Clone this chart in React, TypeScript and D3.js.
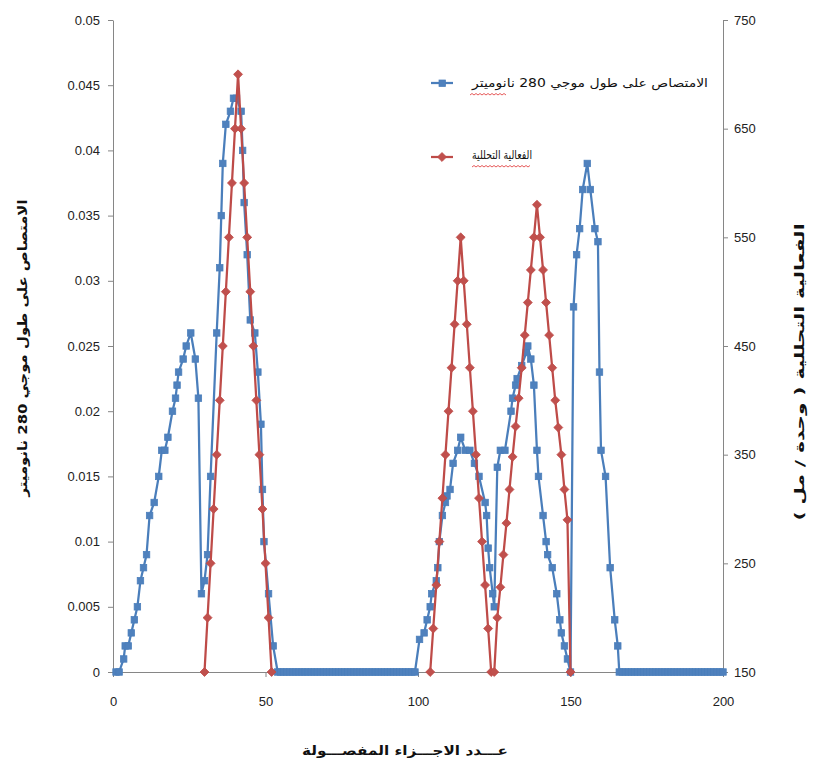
import * as d3 from 'd3';
import { useEffect, useRef } from 'react';

// axis ticks
const fractionTicks = [0, 50, 100, 150, 200];
const absorbanceTicks = [0, 0.005, 0.01, 0.015, 0.02, 0.025, 0.03, 0.035, 0.04, 0.045, 0.05];
const absorbanceLabels = ['0', '0.005', '0.01', '0.015', '0.02', '0.025', '0.03', '0.035', '0.04', '0.045', '0.05'];
const activityTicks = [150, 250, 350, 450, 550, 650, 750];

// absorbance at 280 nm, [fraction, value]
const absorbanceFirst: [number, number][] = [
  [1, 0], [2, 0], [3.5, 0.001], [4, 0.002], [5, 0.002], [6, 0.003], [7, 0.004], [8, 0.005], [9, 0.007],
  [10, 0.008], [11, 0.009], [12, 0.012], [13.5, 0.013], [15, 0.015], [16, 0.017], [17, 0.017], [18, 0.018],
  [19.5, 0.02], [20.5, 0.021], [21, 0.022], [21.5, 0.023], [23, 0.024], [24, 0.025], [25.5, 0.026],
  [27, 0.024], [28, 0.021], [29, 0.006], [30, 0.007], [31, 0.009], [32, 0.015], [34, 0.026], [35, 0.031],
  [35.5, 0.035], [36, 0.039], [37, 0.042], [38.5, 0.043], [39.5, 0.044], [40.5, 0.044], [42, 0.043],
  [42.5, 0.04], [43, 0.036], [44, 0.032], [45, 0.027], [46.5, 0.026], [47.5, 0.023], [48.5, 0.019],
  [49, 0.014], [49.5, 0.01], [51, 0.006], [52.5, 0.002], [54, 0],
];
const baselineRunA = [55, 56, 57, 58, 59, 60, 61, 62, 63, 64, 65, 66, 67, 68, 69, 70, 71, 72, 73, 74, 75, 76,
  77, 78, 79, 80, 81, 82, 83, 84, 85, 86, 87, 88, 89, 90, 91, 92, 93, 94, 95, 96, 97, 98];
const absorbanceSecond: [number, number][] = [
  [99, 0], [100.5, 0.0025], [102, 0.003], [103, 0.004], [104, 0.005], [104.5, 0.006], [106, 0.007],
  [106.5, 0.008], [107, 0.01], [108, 0.012], [109, 0.013], [109.5, 0.0135], [110.5, 0.014], [111.5, 0.016],
  [113, 0.017], [114, 0.018], [115.5, 0.017], [117, 0.017], [118.5, 0.016], [120, 0.015], [122, 0.013],
  [122.5, 0.012], [123, 0.0095], [123.5, 0.008], [124.5, 0.006], [125, 0.005], [126, 0.0157], [127, 0.017],
  [128.5, 0.017], [130.5, 0.02], [131, 0.021], [132, 0.022], [132.5, 0.0225], [134, 0.0235], [135.5, 0.0245],
  [136, 0.025], [137, 0.024], [138, 0.022], [139, 0.017], [139.5, 0.015], [141, 0.012], [142, 0.01],
  [142.5, 0.009], [144, 0.008], [145.5, 0.006], [146.5, 0.004], [147, 0.003], [148, 0.002], [149, 0.001],
  [150, 0], [151, 0.028], [152, 0.032], [153, 0.034], [154, 0.037], [155.5, 0.039], [156.5, 0.037],
  [158, 0.034], [159, 0.033], [159.5, 0.023], [160, 0.017], [161.5, 0.015], [163, 0.008], [164.5, 0.004],
  [165.5, 0.002], [166, 0],
];
const baselineRunB = [167, 168, 169, 170, 171, 172, 173, 174, 175, 176, 177, 178, 179, 180, 181, 182, 183,
  184, 185, 186, 187, 188, 189, 190, 191, 192, 193, 194, 195, 196, 197, 198, 199, 200];

// enzymatic activity (units/ml), three separate peaks
const activityFractions1 = [30, 31, 32, 33, 34, 35, 36, 37, 38, 39, 40, 41, 42, 43, 44, 45, 46, 47, 48, 49, 50, 51, 52];
const activityValues1 = [150, 200, 250, 300, 350, 400, 450, 500, 550, 600, 650, 700, 650, 600, 550, 500, 450, 400, 350, 300, 250, 200, 150];
const activityFractions2 = [104, 105, 106, 107, 108, 109, 110, 111, 112, 113, 114, 115, 116, 117, 118, 119, 120, 121, 122, 123, 124];
const activityValues2 = [150, 190, 230, 270, 310, 350, 390, 430, 470, 510, 550, 510, 470, 430, 390, 350, 310, 270, 230, 190, 150];
const activityFractions3 = [125, 126, 127, 128, 129, 130, 131, 132, 133, 134, 135, 136, 137, 138, 139, 140, 141, 142, 143, 144, 145, 146, 147, 148, 149, 150];
const activityValues3 = [150, 200, 228, 258, 287, 318, 348, 376, 402, 430, 460, 490, 520, 550, 580, 550, 520, 490, 460, 430, 400, 375, 350, 318, 290, 150];

const BLUE = '#4A7EBB';
const BLUE_FILL = '#4F81BD';
const RED = '#BE4B48';
const RED_FILL = '#C0504D';
const AR_FONT = '"DejaVu Sans", sans-serif';
const NUM_FONT = '"Liberation Sans", Arial, sans-serif';

export default function App() {
  const ref = useRef<SVGSVGElement>(null);

  useEffect(() => {
    const svg = d3.select(ref.current);
    svg.selectAll('*').remove();

    const x = d3.scaleLinear().domain([0, 200]).range([113, 723]);
    const yL = d3.scaleLinear().domain([0, 0.05]).range([672, 20]);
    const yR = d3.scaleLinear().domain([150, 750]).range([672, 20]);

    const styleAxis = (g: any) => {
      g.selectAll('path').attr('stroke', '#868686');
      g.selectAll('line').attr('stroke', '#868686');
      g.selectAll('text').attr('fill', '#222').attr('font-family', NUM_FONT).attr('font-size', 13);
    };

    svg.append('g').attr('transform', 'translate(0,672)')
      .call(d3.axisBottom(x).tickValues(fractionTicks).tickSize(5).tickSizeOuter(0).tickPadding(20))
      .call(styleAxis);
    svg.append('g').attr('transform', 'translate(113,0)')
      .call(d3.axisLeft(yL).tickValues(absorbanceTicks).tickSize(5).tickSizeOuter(0).tickPadding(8)
        .tickFormat((_d: any, i: number) => absorbanceLabels[i]))
      .call(styleAxis);
    svg.append('g').attr('transform', 'translate(723,0)')
      .call(d3.axisRight(yR).tickValues(activityTicks).tickSize(5).tickSizeOuter(0).tickPadding(6))
      .call(styleAxis);

    // absorbance series
    const blue: [number, number][] = [
      ...absorbanceFirst,
      ...baselineRunA.map(f => [f, 0] as [number, number]),
      ...absorbanceSecond,
      ...baselineRunB.map(f => [f, 0] as [number, number]),
    ];
    const blueLine = d3.line<[number, number]>().x(d => x(d[0])).y(d => yL(d[1]));
    svg.append('path').datum(blue).attr('d', blueLine).attr('fill', 'none')
      .attr('stroke', BLUE).attr('stroke-width', 2.25).attr('stroke-linejoin', 'round');
    svg.append('g').selectAll('rect').data(blue).enter().append('rect')
      .attr('x', d => x(d[0]) - 3.25).attr('y', d => yL(d[1]) - 3.25)
      .attr('width', 6.5).attr('height', 6.5)
      .attr('fill', BLUE_FILL).attr('stroke', BLUE).attr('stroke-width', 0.75);

    // activity series
    const peaks = [
      activityFractions1.map((f, i) => [f, activityValues1[i]] as [number, number]),
      activityFractions2.map((f, i) => [f, activityValues2[i]] as [number, number]),
      activityFractions3.map((f, i) => [f, activityValues3[i]] as [number, number]),
    ];
    const redLine = d3.line<[number, number]>().x(d => x(d[0])).y(d => yR(d[1]));
    const diamond = d3.symbol().type(d3.symbolSquare).size(40);
    peaks.forEach(pk => {
      svg.append('path').datum(pk).attr('d', redLine).attr('fill', 'none')
        .attr('stroke', RED).attr('stroke-width', 2.25).attr('stroke-linejoin', 'round');
      svg.append('g').selectAll('path').data(pk).enter().append('path')
        .attr('d', diamond as any)
        .attr('transform', d => `translate(${x(d[0])},${yR(d[1])}) rotate(45)`)
        .attr('fill', RED_FILL).attr('stroke', RED).attr('stroke-width', 0.75);
    });

    // legend
    const lg = svg.append('g');
    lg.append('line').attr('x1', 431).attr('x2', 453).attr('y1', 83).attr('y2', 83)
      .attr('stroke', BLUE).attr('stroke-width', 2.25);
    lg.append('rect').attr('x', 439).attr('y', 80).attr('width', 6.5).attr('height', 6.5)
      .attr('fill', BLUE_FILL).attr('stroke', BLUE).attr('stroke-width', 0.75);
    lg.append('text').attr('x', 472).attr('y', 83).attr('dominant-baseline', 'central')
      .attr('font-family', AR_FONT).attr('font-size', 12).attr('fill', '#111')
      .attr('textLength', 236).attr('lengthAdjust', 'spacingAndGlyphs')
      .text('الامتصاص على طول موجي 280 نانوميتر');
    lg.append('line').attr('x1', 431).attr('x2', 453).attr('y1', 157).attr('y2', 157)
      .attr('stroke', RED).attr('stroke-width', 2.25);
    lg.append('path').attr('d', diamond as any).attr('transform', 'translate(442,157) rotate(45)')
      .attr('fill', RED_FILL).attr('stroke', RED).attr('stroke-width', 0.75);
    lg.append('text').attr('x', 472).attr('y', 155).attr('dominant-baseline', 'central')
      .attr('font-family', AR_FONT).attr('font-size', 12).attr('fill', '#111')
      .attr('textLength', 60).attr('lengthAdjust', 'spacingAndGlyphs')
      .text('الفعالية التحللية');

    // spell-check squiggles under the Arabic words
    const squiggle = (x0: number, x1: number, y0: number) => {
      let d = `M${x0},${y0}`;
      for (let px = x0, up = true; px < x1; px += 2, up = !up) d += ` L${px + 2},${y0 + (up ? -1.5 : 0)}`;
      return d;
    };
    lg.append('path').attr('d', squiggle(470, 505, 95)).attr('fill', 'none').attr('stroke', '#e03030').attr('stroke-width', 0.8);
    lg.append('path').attr('d', squiggle(472, 530, 167)).attr('fill', 'none').attr('stroke', '#e03030').attr('stroke-width', 0.8);

    // axis titles
    svg.append('text').attr('transform', 'translate(22,348) rotate(-90)')
      .attr('text-anchor', 'middle').attr('dominant-baseline', 'central')
      .attr('font-family', AR_FONT).attr('font-weight', 'bold').attr('font-size', 13).attr('fill', '#111')
      .attr('textLength', 297).attr('lengthAdjust', 'spacingAndGlyphs')
      .text('الامتصاص على طول موجي 280 نانوميتر');
    svg.append('text').attr('transform', 'translate(799,372) rotate(-90)')
      .attr('text-anchor', 'middle').attr('dominant-baseline', 'central')
      .attr('font-family', AR_FONT).attr('font-weight', 'bold').attr('font-size', 13).attr('fill', '#111')
      .attr('textLength', 297).attr('lengthAdjust', 'spacingAndGlyphs')
      .text('الفعالية التحللية ( وحدة / مل )');
    svg.append('text').attr('x', 405).attr('y', 750)
      .attr('text-anchor', 'middle').attr('dominant-baseline', 'central')
      .attr('font-family', AR_FONT).attr('font-weight', 'bold').attr('font-size', 13).attr('fill', '#111')
      .attr('textLength', 206).attr('lengthAdjust', 'spacingAndGlyphs')
      .text('عـــدد الاجـــزاء المفصـــولة');
  }, []);

  return (
    <svg ref={ref} width={814} height={776}
      style={{ position: 'absolute', left: 0, top: 0, background: '#fff' }} />
  );
}
